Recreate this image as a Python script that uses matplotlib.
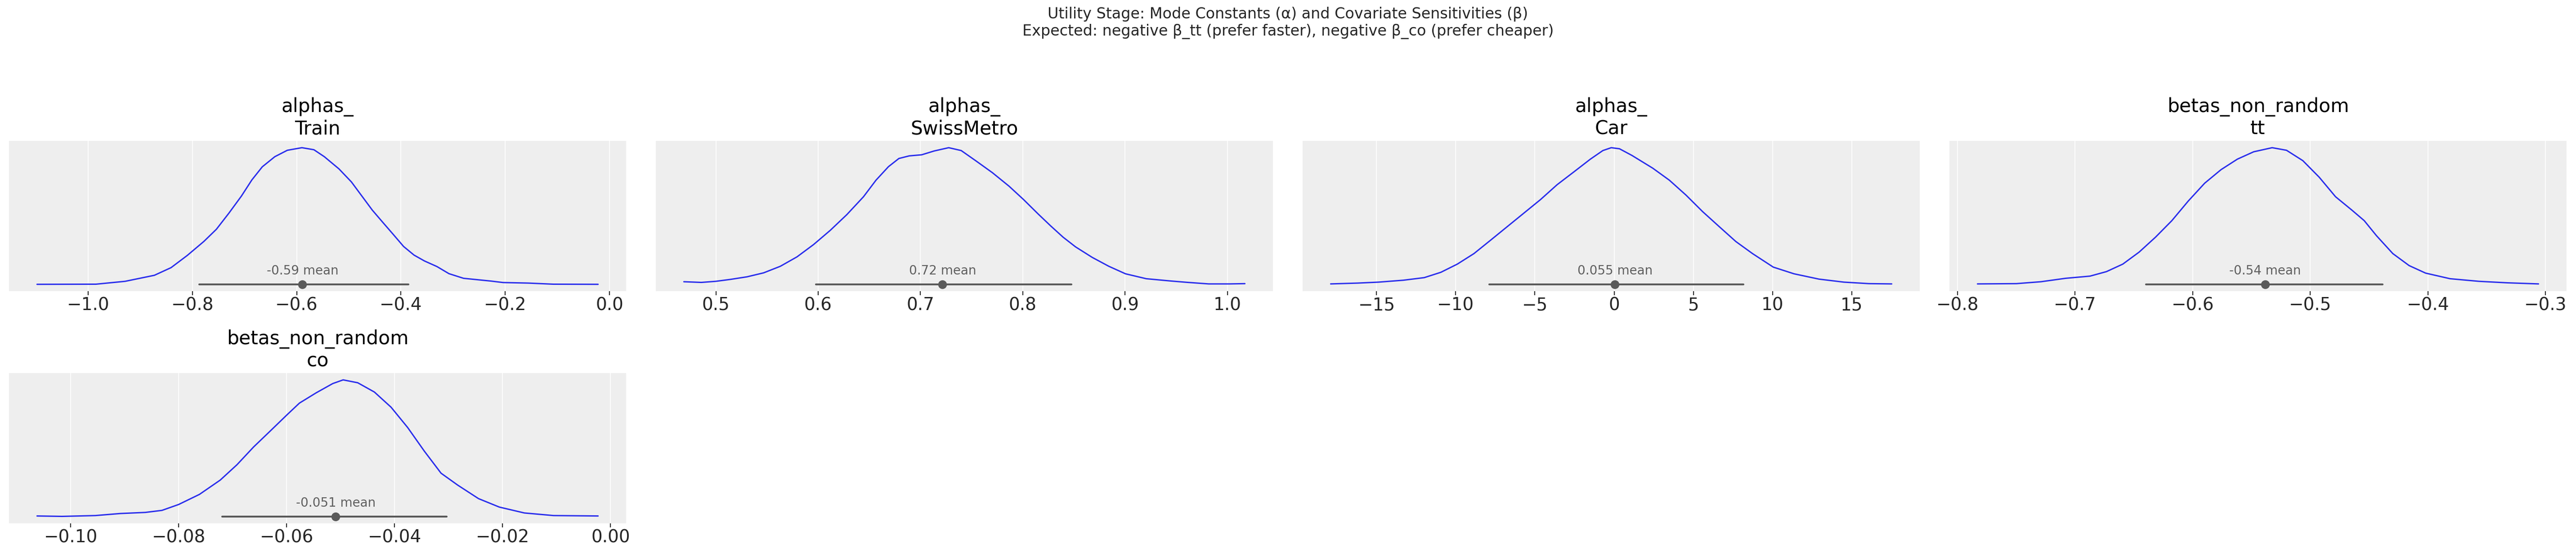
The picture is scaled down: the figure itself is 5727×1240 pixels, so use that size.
import matplotlib
matplotlib.use("Agg")
import matplotlib.pyplot as plt

# --- dane (gęstość znormalizowana do maksimum = 1) ---
titles = ["alphas_\nTrain", "alphas_\nSwissMetro", "alphas_\nCar",
          "betas_non_random\ntt", "betas_non_random\nco"]

train_x = [-1.098, -0.985, -0.929, -0.873, -0.841, -0.810, -0.778, -0.754, -0.730, -0.706,
           -0.686, -0.666, -0.642, -0.618, -0.590, -0.567, -0.547, -0.519, -0.495, -0.475,
           -0.455, -0.435, -0.415, -0.395, -0.375, -0.355, -0.331, -0.308, -0.280, -0.228,
           -0.204, -0.156, -0.108, -0.022]
train_d = [0.0, 0.001, 0.022, 0.066, 0.122, 0.211, 0.314, 0.403, 0.521, 0.646,
           0.764, 0.860, 0.934, 0.981, 1.0, 0.985, 0.934, 0.845, 0.749, 0.646,
           0.543, 0.454, 0.366, 0.277, 0.214, 0.171, 0.130, 0.078, 0.044, 0.024,
           0.013, 0.009, 0.001, 0.0]

swiss_x = [0.4687, 0.4858, 0.5000, 0.5142, 0.5305, 0.5467, 0.5630, 0.5793, 0.5955, 0.6118,
           0.6280, 0.6443, 0.6565, 0.6687, 0.6789, 0.6890, 0.7012, 0.7134, 0.7276, 0.7398,
           0.7541, 0.7703, 0.7866, 0.8008, 0.8150, 0.8272, 0.8394, 0.8516, 0.8679, 0.8841,
           0.9004, 0.9207, 0.9451, 0.9614, 0.9817, 1.0020, 1.0171]
swiss_d = [0.019, 0.014, 0.022, 0.036, 0.055, 0.084, 0.132, 0.201, 0.291, 0.395,
           0.510, 0.641, 0.762, 0.861, 0.921, 0.940, 0.948, 0.976, 1.0, 0.979,
           0.904, 0.817, 0.718, 0.620, 0.515, 0.428, 0.345, 0.274, 0.197, 0.132,
           0.077, 0.041, 0.024, 0.014, 0.003, 0.003, 0.005]

car_x = [-17.90, -16.19, -14.88, -13.31, -11.99, -10.94, -9.90, -8.85, -7.80, -6.75,
         -5.70, -4.65, -3.60, -2.55, -1.50, -0.71, -0.18, 0.34, 1.13, 2.44,
         3.49, 4.54, 5.59, 6.64, 7.69, 8.74, 10.05, 11.36, 12.94, 14.51,
         16.09, 17.53]
car_d = [0.003, 0.009, 0.016, 0.030, 0.049, 0.088, 0.148, 0.225, 0.323, 0.422,
         0.521, 0.620, 0.729, 0.822, 0.916, 0.979, 1.0, 0.992, 0.943, 0.850,
         0.762, 0.653, 0.532, 0.422, 0.313, 0.225, 0.126, 0.077, 0.038, 0.016,
         0.005, 0.003]

tt_x = [-0.7830, -0.7499, -0.7290, -0.7081, -0.6873, -0.6733, -0.6594, -0.6455, -0.6316, -0.6177,
        -0.6038, -0.5898, -0.5759, -0.5620, -0.5481, -0.5324, -0.5202, -0.5063, -0.4924, -0.4785,
        -0.4646, -0.4541, -0.4437, -0.4298, -0.4159, -0.4019, -0.3811, -0.3567, -0.3324, -0.3059]
tt_d = [0.003, 0.005, 0.019, 0.044, 0.060, 0.093, 0.148, 0.236, 0.345, 0.466,
        0.609, 0.740, 0.839, 0.916, 0.970, 1.0, 0.981, 0.905, 0.784, 0.641,
        0.543, 0.466, 0.356, 0.225, 0.137, 0.082, 0.041, 0.022, 0.011, 0.003]

co_x = [-0.10625, -0.10162, -0.09545, -0.09082, -0.08619, -0.08310, -0.08002, -0.07616, -0.07230,
        -0.06921, -0.06613, -0.06304, -0.05995, -0.05764, -0.05455, -0.05147, -0.04954, -0.04684,
        -0.04375, -0.04066, -0.03758, -0.03449, -0.03140, -0.02832, -0.02446, -0.02060, -0.01597,
        -0.01057, -0.00231]
co_d = [0.004, 0.001, 0.007, 0.022, 0.030, 0.045, 0.088, 0.162, 0.267,
        0.379, 0.509, 0.626, 0.744, 0.830, 0.905, 0.973, 1.0, 0.979,
        0.911, 0.800, 0.651, 0.478, 0.317, 0.230, 0.131, 0.069, 0.026,
        0.007, 0.004]

means = [-0.589, 0.7215, 0.055, -0.5383, -0.05093]
mean_labels = ["-0.59 mean", "0.72 mean", "0.055 mean", "-0.54 mean", "-0.051 mean"]
ci_low = [-0.787, 0.5976, -7.87, -0.6396, -0.07191]
ci_high = [-0.386, 0.8476, 8.16, -0.4385, -0.03040]

xticks = [[-1.0, -0.8, -0.6, -0.4, -0.2, 0.0],
          [0.5, 0.6, 0.7, 0.8, 0.9, 1.0],
          [-15, -10, -5, 0, 5, 10, 15],
          [-0.8, -0.7, -0.6, -0.5, -0.4, -0.3],
          [-0.10, -0.08, -0.06, -0.04, -0.02, 0.00]]

xs = [train_x, swiss_x, car_x, tt_x, co_x]
ds = [train_d, swiss_d, car_d, tt_d, co_d]

# --- styl ---
KDE_COLOR = "#2a2eec"
CI_COLOR = "#5a5a5a"
BG_COLOR = "#eeeeee"

W, H = 5727, 1240
fig = plt.figure(figsize=(W / 100, H / 100), dpi=100)

# pozycje osi w pikselach (lewo, góra)
col_left = [20, 1458, 2896, 4334]
row_top = [313, 829]
ax_w, ax_h = 1372, 334
slots = [(0, 0), (0, 1), (0, 2), (0, 3), (1, 0)]

for i, (r, c) in enumerate(slots):
    left = col_left[c] / W
    bottom = 1 - (row_top[r] + ax_h) / H
    ax = fig.add_axes([left, bottom, ax_w / W, ax_h / H])
    ax.set_facecolor(BG_COLOR)
    for s in ax.spines.values():
        s.set_visible(False)

    ax.plot(xs[i], ds[i], color=KDE_COLOR, linewidth=2.2, solid_capstyle="round")
    ax.plot([ci_low[i], ci_high[i]], [0, 0], color=CI_COLOR, linewidth=3,
            solid_capstyle="round")
    ax.plot([means[i]], [0], "o", color=CI_COLOR, markersize=13)
    ax.annotate(mean_labels[i], xy=(means[i], 0), xytext=(0, 16),
                textcoords="offset points", ha="center", va="baseline",
                fontsize=20, color="#5f5f5f")

    ax.set_xticks(xticks[i])
    ax.set_yticks([])
    ax.margins(x=0.05, y=0.05)
    ax.grid(True, axis="x", color="white", linewidth=1.2)
    ax.set_axisbelow(True)
    ax.tick_params(axis="x", labelsize=28, length=6.5, width=1.5, pad=2.5,
                   colors="#262626")
    ax.set_title(titles[i], fontsize=30.5, pad=10.5, color="black")

fig.suptitle("Utility Stage: Mode Constants (α) and Covariate Sensitivities (β)\n"
             "Expected: negative β_tt (prefer faster), negative β_co (prefer cheaper)",
             fontsize=24, y=1 - 15 / H, va="top", color="#262626")

plt.savefig("out.png", dpi=100)
